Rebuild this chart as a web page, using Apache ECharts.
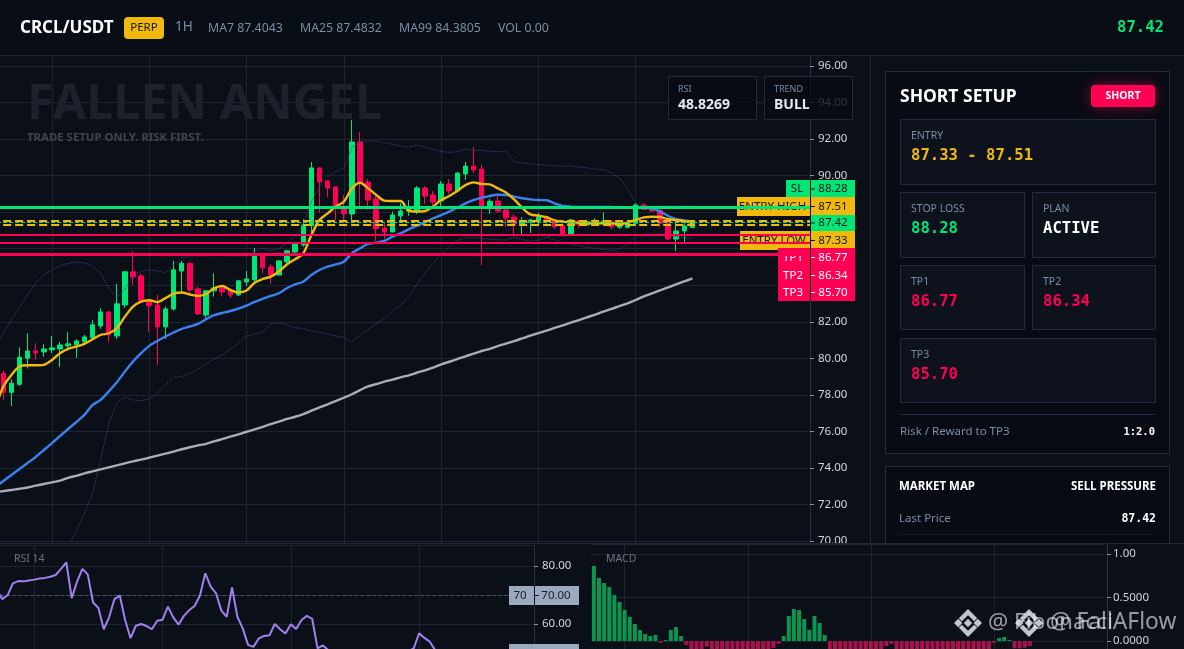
<!DOCTYPE html>
<html><head><meta charset="utf-8">
<script src="https://cdn.jsdelivr.net/npm/echarts@6/dist/echarts.min.js"></script>
<style>html,body{margin:0;padding:0;background:#0b1018;overflow:hidden}#c{width:1184px;height:649px}</style>
</head><body><div id="c"></div>
<script>
// [open, close, low, high]; first entry sits just off the left edge
const candles = [
[78.90,79.20,78.60,79.40],
[79.18,78.14,77.72,79.33],[78.14,78.63,77.39,78.85],[78.58,80.06,78.49,80.60],[80.00,80.40,79.44,81.37],[80.40,80.29,79.91,80.82],
[80.35,80.51,80.09,80.77],[80.46,80.57,80.28,81.22],[80.51,80.73,79.51,80.90],[80.68,80.79,80.55,81.44],[80.73,80.95,80.02,81.04],
[80.90,81.17,80.82,81.28],[81.12,81.83,81.06,82.10],[81.77,82.54,81.61,82.76],[82.54,81.28,80.86,82.54],[81.22,82.98,81.06,84.07],
[82.92,84.73,82.76,84.78],[84.73,84.45,84.02,85.88],[84.51,83.14,83.09,84.65],[83.09,82.87,81.44,83.20],[82.92,81.72,79.64,83.47],
[81.72,82.70,81.06,82.83],[82.70,84.84,82.61,85.33],[84.78,85.20,83.56,85.33],[85.20,83.74,83.56,85.20],[83.80,82.43,82.37,83.91],
[82.37,83.69,82.21,83.74],[83.69,83.85,83.38,84.65],[83.85,83.63,83.38,84.02],[83.69,83.47,83.29,83.83],[83.47,84.24,83.41,84.29],
[84.18,84.34,83.96,84.78],[84.29,85.60,84.20,86.04],[85.60,84.95,84.65,85.66],[85.00,84.56,84.07,85.15],[84.56,85.33,84.54,85.38],
[85.28,85.88,85.06,85.93],[85.82,86.26,85.60,86.30],[86.20,87.30,86.11,87.61],[87.26,90.42,86.66,90.74],[90.42,89.65,87.97,90.44],
[89.70,89.32,88.83,89.76],[89.38,88.21,87.57,89.38],[88.28,87.90,87.39,88.94],[87.90,91.84,87.39,93.04],[91.84,89.61,88.15,92.39],
[89.65,88.66,88.12,89.81],[88.72,87.08,86.42,88.88],[87.13,86.91,86.53,87.42],[86.91,87.84,86.91,88.04],[87.79,88.06,87.48,88.48],
[88.06,88.30,87.79,88.66],[88.01,89.32,87.90,89.43],[89.32,88.88,88.44,89.43],[88.94,88.55,88.30,89.16],[88.61,89.54,88.34,89.70],
[89.54,89.16,88.99,89.81],[89.16,90.14,89.07,90.18],[90.09,90.52,89.76,90.74],[90.52,90.31,90.14,91.56],[90.36,88.28,85.11,90.63],
[88.28,88.59,87.90,88.72],[88.61,88.06,87.95,88.94],[88.12,87.68,87.19,88.21],[87.73,87.35,86.80,87.88],[87.35,87.51,86.75,87.73],
[87.48,87.57,86.86,87.62],[87.51,87.73,87.30,87.95],[87.66,87.51,87.24,87.79],[87.51,87.19,87.08,87.62],[87.26,86.80,86.66,87.39],
[86.80,87.57,86.75,87.62],[87.51,87.33,87.11,87.57],[87.30,87.48,87.26,87.57],[87.39,87.55,87.30,87.66],[87.39,87.51,87.30,87.99],
[87.51,87.20,87.06,87.57],[87.17,87.24,87.08,87.30],[87.17,87.39,87.11,87.51],[87.39,88.39,87.24,88.48],[88.39,88.15,88.15,88.52],
[88.26,88.06,88.03,88.33],[88.12,87.39,87.17,88.15],[87.39,86.53,86.47,87.48],[86.53,86.97,85.87,87.51],[86.97,87.24,86.37,87.48],
[87.17,87.42,87.11,87.44]];
const ma7 = [77.30,78.45,79.09,79.55,79.62,79.62,79.64,79.91,80.28,80.51,80.64,80.79,81.04,81.28,81.37,81.64,82.28,82.83,83.10,83.18,83.07,83.29,83.54,83.60,83.49,83.41,83.52,83.83,83.96,83.74,83.61,83.71,84.14,84.34,84.47,84.75,85.15,85.42,85.74,86.75,87.57,87.93,88.30,88.57,89.30,89.61,89.30,88.94,88.63,88.61,88.61,88.08,88.03,88.06,88.30,88.66,88.88,89.17,89.48,89.63,89.54,89.52,89.30,89.08,88.70,88.24,87.88,87.81,87.72,87.55,87.48,87.44,87.42,87.40,87.39,87.39,87.39,87.37,87.42,87.57,87.71,87.75,87.73,87.61,87.57,87.51,87.40];
const ma25 = [72.95,73.28,73.61,73.94,74.27,74.60,74.98,75.36,75.75,76.13,76.51,76.90,77.44,77.72,78.18,78.69,79.27,79.82,80.28,80.68,80.95,81.19,81.41,81.61,81.74,81.88,82.14,82.36,82.48,82.59,82.72,82.88,83.09,83.25,83.41,83.56,83.85,84.05,84.19,84.56,84.83,85.02,85.14,85.29,85.75,86.02,86.26,86.33,86.42,86.66,86.84,87.06,87.24,87.44,87.66,87.84,88.03,88.24,88.48,88.66,88.79,88.88,88.96,88.94,88.85,88.76,88.70,88.66,88.65,88.48,88.34,88.30,88.28,88.28,88.28,88.28,88.28,88.26,88.26,88.24,88.24,88.19,88.03,87.79,87.62,87.55,87.48];
const ma99 = [72.67,72.73,72.79,72.86,72.93,73.03,73.12,73.21,73.30,73.46,73.56,73.70,73.81,73.92,74.03,74.14,74.25,74.36,74.45,74.56,74.67,74.78,74.89,75.02,75.13,75.23,75.32,75.45,75.58,75.71,75.84,75.98,76.11,76.25,76.40,76.53,76.68,76.80,76.95,77.13,77.31,77.48,77.66,77.84,78.03,78.26,78.46,78.59,78.72,78.83,78.96,79.07,79.21,79.34,79.49,79.67,79.81,79.96,80.11,80.25,80.40,80.52,80.67,80.80,80.94,81.09,81.24,81.38,81.51,81.66,81.80,81.95,82.09,82.24,82.39,82.55,82.70,82.86,83.01,83.19,83.39,83.55,83.72,83.88,84.05,84.21,84.38];
const bbUpper = [80.60,81.37,82.10,82.78,83.47,84.14,84.56,84.84,85.06,85.20,85.26,85.22,85.06,84.64,83.83,83.32,83.78,84.53,84.76,84.84,84.78,84.69,85.11,85.48,85.60,85.60,85.62,85.62,85.64,85.60,85.60,85.64,85.90,86.02,85.91,85.99,86.30,86.70,87.30,88.57,89.39,89.94,90.21,90.40,91.55,91.84,91.91,91.87,91.80,91.71,91.62,91.55,91.67,91.58,91.44,91.31,91.27,91.31,91.44,91.38,91.37,91.33,91.31,91.31,90.76,90.69,90.63,90.60,90.56,90.54,90.53,90.53,90.47,90.42,90.36,90.31,90.16,89.85,89.30,88.48,88.33,88.33,88.33,88.35,88.35,88.33,88.33];
const bbLower = [null,null,null,null,null,null,null,null,68.90,69.70,70.56,71.51,72.61,74.43,76.44,77.57,77.86,77.72,77.68,77.77,78.08,78.54,78.96,79.00,79.18,79.40,79.69,79.95,80.18,80.49,80.82,81.22,81.33,81.44,81.88,81.95,81.83,81.68,81.62,81.50,81.42,81.33,81.22,81.15,80.91,81.27,81.58,81.89,82.18,82.59,82.91,83.37,84.06,84.65,85.20,85.65,86.11,86.47,86.58,86.60,86.55,86.51,86.49,86.47,86.62,86.51,86.40,86.47,86.62,86.47,86.33,86.25,86.16,86.07,86.02,85.96,85.89,85.98,86.25,86.71,86.78,86.80,86.80,86.76,86.66,86.58,86.56];
const rsiValues = [71.7,68.6,69.9,74.0,74.8,74.7,75.0,75.3,75.7,75.9,76.3,76.9,79.0,81.2,68.9,74.6,79.0,77.1,67.4,65.5,58.2,62.3,68.6,69.8,61.4,55.1,59.4,60.0,59.3,58.2,61.1,61.5,66.0,62.3,59.8,62.8,64.8,66.2,69.8,77.5,72.9,70.6,64.6,62.5,72.6,62.5,58.5,52.8,52.1,55.0,55.9,56.1,60.0,58.2,56.7,59.9,58.3,61.4,62.8,61.8,51.6,52.6,51.0,49.8,48.9,47.5,46.2,45.6,46.8,47.9,47.2,46.5,45.9,47.1,48.6,49.4,49.9,50.6,51.6,56.8,55.2,53.9,51.0,49.6,48.7,47.8,48.2,47.4,48.1,48.83];
const macdHist = [0.862,0.724,0.667,0.621,0.529,0.448,0.356,0.276,0.195,0.126,0.08,0.057,0.069,-0.02,0.011,0.126,0.161,0.057,-0.046,-0.11,-0.14,-0.13,-0.065,-0.12,-0.15,-0.16,-0.14,-0.17,-0.18,-0.15,-0.14,-0.13,-0.12,-0.11,-0.10,-0.08,-0.034,0.057,0.287,0.368,0.356,0.253,0.126,0.287,0.207,0.069,-0.13,-0.16,-0.18,-0.20,-0.19,-0.17,-0.16,-0.15,-0.14,-0.12,-0.10,-0.057,-0.034,-0.10,-0.12,-0.13,-0.14,-0.15,-0.16,-0.15,-0.14,-0.13,-0.14,-0.15,-0.13,-0.12,-0.11,-0.13,-0.12,-0.11,-0.10,-0.095,-0.02,0.034,0.046,0.011,-0.084,-0.084,-0.077,-0.057];
const priceTicks = {min:70,max:96.6,step:2};
const levelSL=88.28, levelEntryHigh=87.51, levelLast=87.42, levelEntryLow=87.33, levelTP1=86.77, levelTP2=86.34, levelTP3=85.70;
const rsiLast='48.8269', trendLabel='BULL';

const SANS='"Noto Sans",sans-serif', MONO='"DejaVu Sans Mono",monospace';
const GREEN='#00e676', PINK='#ff0055', GOLD='#f0b90b', GRID='#1d2430', AXIS='#2a3142', MUTED='#7b8ca3';
const mkCats=n=>Array.from({length:n},(_,i)=>String(i));
const chart=echarts.init(document.getElementById('c'),null,{renderer:'canvas'});
const G=[];
const R=(x,y,w,h,fill,stroke,z,extra)=>G.push(Object.assign({type:'rect',silent:true,z:z||1,shape:{x,y,width:w,height:h,r:(extra&&extra.r)||0},style:Object.assign({fill,stroke:stroke||null,lineWidth:stroke?1:0},extra&&extra.style)}));
const T=(x,y,text,font,fill,align,z)=>G.push({type:'text',silent:true,z:z||1,style:{x,y,text,font,fill,align:align||'left',verticalAlign:'middle'}});
const card=(x,y,w,h,label,val,color,mono)=>{R(x+.5,y+.5,w,h,'#0d121c','#242b3c');T(x+11,y+17,label,'10.5px '+SANS,MUTED);T(x+11,y+37,val,'bold 15.6px '+(mono===false?SANS:MONO),color);};

// watermark
T(27,105,'FALLEN ANGEL','bold 48.5px '+SANS,'#1c212b');
T(27,138,'TRADE SETUP ONLY. RISK FIRST.','bold 11.4px '+SANS,'#3f444f');
// floating stat boxes
const stat=(x,label,val)=>{R(x+.5,76.5,88,43,'rgba(8,11,19,0.82)','#242b3c');T(x+10,89,label,'9px '+SANS,MUTED);T(x+10,105,val,'bold 14px '+SANS,'#e4e9f0');};
stat(668,'RSI',rsiLast);stat(764,'TREND',trendLabel);
// header
R(0,0,1184,55,'#090d15');R(0,55,1184,1,'#202736');
T(20,28,'CRCL/USDT','bold 17px '+SANS,'#ffffff');
R(124,17,40,22,GOLD,null,1,{r:4});T(144,28,'PERP','11.5px '+SANS,'#14161c','center');
T(175,27,'1H','13.5px '+SANS,MUTED);
T(208,28,'MA7 87.4043','12.3px '+SANS,MUTED);T(300,28,'MA25 87.4832','12.3px '+SANS,MUTED);
T(399,28,'MA99 84.3805','12.3px '+SANS,MUTED);T(498,28,'VOL 0.00','12.3px '+SANS,MUTED);
T(1164,28,levelLast.toFixed(2),'bold 15.6px '+MONO,GREEN,'right');
// price tags
const tag=(x,y,h,label,val,bg,fg)=>{R(x,y,855-x,h,bg);if(label)T((x+808)/2,y+h/2,label,'11.5px '+SANS,fg,'center');R(811,y+h/2-.5,4,1,fg);T(833,y+h/2,val,'11.5px '+SANS,fg,'center');};
tag(786,180,18,'SL',levelSL.toFixed(2),GREEN,'#12161d');
tag(737,197,19,'ENTRY HIGH',levelEntryHigh.toFixed(2),GOLD,'#12161d');
tag(810,215,16,'',levelLast.toFixed(2),GREEN,'#12161d');
tag(740,231,19,'ENTRY LOW',levelEntryLow.toFixed(2),GOLD,'#12161d');
tag(778,248,19,'TP1',levelTP1.toFixed(2),PINK,'#ffffff');
tag(778,267,17,'TP2',levelTP2.toFixed(2),PINK,'#ffffff');
tag(778,284,17,'TP3',levelTP3.toFixed(2),PINK,'#ffffff');
R(810,180,1,121,'#0a0e15');
// right column
R(870,56,314,488,'#0b1018');R(870,56,1,488,'#202736');
R(885.5,71.5,284,382,'#080b13','#242b3c');
T(900,97,'SHORT SETUP','bold 17.5px '+SANS,'#ffffff');
R(1091,85,64,22,PINK,null,1,{r:4,style:{shadowBlur:14,shadowColor:'rgba(255,0,85,0.45)'}});
T(1123,96,'SHORT','bold 10.5px '+SANS,'#ffffff','center');
card(900,119,255,65,'ENTRY',levelEntryLow.toFixed(2)+' - '+levelEntryHigh.toFixed(2),GOLD);
card(900,192,124,65,'STOP LOSS',levelSL.toFixed(2),GREEN);
card(1032,192,123,65,'PLAN','ACTIVE','#ffffff');
card(900,265,124,64,'TP1',levelTP1.toFixed(2),PINK);
card(1032,265,123,64,'TP2',levelTP2.toFixed(2),PINK);
card(900,338,255,64,'TP3',levelTP3.toFixed(2),PINK);
R(900,414,255,1,'#242b3c');
T(900,432,'Risk / Reward to TP3','11.5px '+SANS,MUTED);
T(1155,432,'1:2.0','bold 10.5px '+MONO,'#ffffff','right');
R(885.5,466.5,284,100,'#080b13','#242b3c');
T(899,487,'MARKET MAP','bold 11.5px '+SANS,'#ffffff');
T(1156,487,'SELL PRESSURE','bold 11.5px '+SANS,'#ffffff','right');
T(899,519,'Last Price','11.5px '+SANS,MUTED);
T(1156,519,levelLast.toFixed(2),'bold 11.5px '+MONO,'#ffffff','right');
G.push({type:'line',silent:true,z:1,shape:{x1:899,y1:534.5,x2:1156,y2:534.5},style:{stroke:'#1d2430',lineWidth:1,lineDash:[2,2]}});
// bottom strip
R(0,544,1184,105,'#0b1018');R(0,543,1184,1,'#202736');
// pane tags and captions
const paneZ=6;
T(14,559,'RSI 14','10.5px '+SANS,'#6b7280','left',paneZ);
T(606,559,'MACD','10.5px '+SANS,'#6b7280','left',paneZ);
R(509,586,70,19,'#9aa9bd',null,paneZ);T(520,595.5,'70','11.5px '+SANS,'#1a1f28','center',paneZ);T(556,595.5,'70.00','11.5px '+SANS,'#1a1f28','center',paneZ);
R(535,595,4,1,'#1a1f28',null,paneZ);R(534,586,1,19,'#0a0e15',null,paneZ);
R(509,644,70,12,'#9aa9bd',null,paneZ);
// exchange watermark
const WM='rgba(235,238,242,0.82)';
const logo=(c,m,s)=>{const P=pts=>G.push({type:'polygon',silent:true,z:8,shape:{points:pts.map(p=>[c+p[0]*s,m+p[1]*s])},style:{fill:WM}});
 P([[0,-.3],[.3,0],[0,.3],[-.3,0]]);P([[-1,0],[-.7,-.3],[-.4,0],[-.7,.3]]);P([[1,0],[.7,-.3],[.4,0],[.7,.3]]);
 P([[0,-1],[.66,-.34],[.44,-.12],[0,-.56],[-.44,-.12],[-.66,-.34]]);P([[0,1],[.66,.34],[.44,.12],[0,.56],[-.44,.12],[-.66,.34]]);};
logo(968,623,14);logo(1029,623,14);
T(988,623,'@ Fibonacci','22.5px '+SANS,'rgba(235,238,242,0.62)','left',8);
T(1050,623,'@ FallAFlow','22.8px '+SANS,'rgba(235,238,242,0.62)','left',8);

const axisLab={color:'#cfd4dc',fontSize:11.5,fontFamily:SANS,padding:[2,0,0,0]};
const vGrid=(offset,step)=>({show:true,alignWithLabel:true,interval:(i)=>i>=offset&&(i-offset)%step===0&&i<=offset+step*Math.floor(78/step),lineStyle:{color:GRID,width:1}});
const line=(name,data,color,width,extra)=>Object.assign({name,type:'line',data,xAxisIndex:0,yAxisIndex:0,z:4,showSymbol:false,symbol:'none',silent:true,connectNulls:false,lineStyle:{color,width}},extra||{});
const lv=(v,color,w,type)=>({yAxis:v,lineStyle:{color,width:w,type:type||'solid'}});

chart.setOption({
 animation:false,backgroundColor:'#0b1018',
 grid:[{outerBoundsMode:'none',left:-8.86,top:55,width:818.86,height:486},{outerBoundsMode:'none',left:-5.8,top:545,width:539.8,height:108},{outerBoundsMode:'none',left:591.3,top:544,width:513,height:140.5}],
 xAxis:[
  {gridIndex:0,type:'category',data:mkCats(101),axisLine:{show:false},axisLabel:{show:false},axisTick:{show:true,alignWithLabel:true,length:3,interval:i=>(i-7)%12===0&&i>=7&&i<=79,lineStyle:{color:AXIS}},splitLine:vGrid(7,12)},
  {gridIndex:1,z:5,type:'category',data:mkCats(101),axisLine:{show:false},axisLabel:{show:false},axisTick:{show:false},splitLine:vGrid(7,24)},
  {gridIndex:2,z:5,type:'category',data:mkCats(100),axisLine:{show:false},axisLabel:{show:false},axisTick:{show:false},splitLine:vGrid(6,24)}],
 yAxis:[
  {gridIndex:0,type:'value',position:'right',min:priceTicks.min,max:priceTicks.max,interval:priceTicks.step,axisLine:{show:true,lineStyle:{color:AXIS}},axisTick:{show:true,length:4,lineStyle:{color:'#8a93a3'}},axisLabel:Object.assign({margin:8,showMaxLabel:false,formatter:v=>v.toFixed(2)},axisLab),splitLine:{show:true,lineStyle:{color:GRID}}},
  {gridIndex:1,z:5,type:'value',position:'right',min:50,max:87.24,interval:10,axisLine:{show:true,lineStyle:{color:AXIS}},axisTick:{show:true,length:4,lineStyle:{color:'#8a93a3'}},axisLabel:Object.assign({margin:8,showMaxLabel:false,formatter:v=>v.toFixed(2)},axisLab),splitLine:{show:true,lineStyle:{color:GRID}}},
  {gridIndex:2,z:5,type:'value',position:'right',offset:2.7,min:-0.5,max:1.115,interval:0.5,axisLine:{show:true,lineStyle:{color:AXIS}},axisTick:{show:true,length:4,lineStyle:{color:'#8a93a3'}},axisLabel:Object.assign({margin:6,showMaxLabel:false,formatter:v=>v===1?'1.00':v.toFixed(4)},axisLab),splitLine:{show:true,lineStyle:{color:GRID}}}],
 graphic:{elements:G},
 series:[
  {name:'candles',type:'candlestick',xAxisIndex:0,yAxisIndex:0,z:3,silent:true,data:candles,barWidth:5,itemStyle:{color:GREEN,color0:PINK,borderColor:GREEN,borderColor0:PINK,borderWidth:1}},
  line('BB upper',bbUpper,'#453f7a',1,{lineStyle:{color:'#453f7a',width:1,type:'dotted'}}),
  line('BB lower',bbLower,'#453f7a',1,{lineStyle:{color:'#453f7a',width:1,type:'dotted'}}),
  line('MA99',ma99,'#a9adb6',2.4,{smooth:0.3}),
  line('MA25',ma25,'#3b82f0',2.4,{smooth:0.3}),
  line('MA7',ma7,GOLD,2.4,{smooth:0.3}),
  {name:'levels',type:'line',xAxisIndex:0,yAxisIndex:0,z:5,data:[],silent:true,markLine:{silent:true,symbol:'none',animation:false,label:{show:false},data:[
    lv(levelLast,GREEN,1,'dashed'),lv(levelEntryHigh,GOLD,2,'dashed'),lv(levelEntryLow,GOLD,2,'dashed'),lv(levelSL,GREEN,3),lv(levelTP1,PINK,2),lv(levelTP2,PINK,2),lv(levelTP3,PINK,3)]}},
  {name:'RSI',type:'line',xAxisIndex:1,yAxisIndex:1,z:6,data:rsiValues,symbol:'none',silent:true,lineStyle:{color:'#9f80ee',width:2},markLine:{silent:true,symbol:'none',animation:false,label:{show:false},data:[{yAxis:70,lineStyle:{color:'#4a5060',width:1,type:'dashed'}}]}},
  {name:'MACD',type:'bar',xAxisIndex:2,yAxisIndex:2,z:6,silent:true,data:macdHist,barWidth:4,itemStyle:{color:p=>p.value>=0?'#0a9651':'#a9114c'}}
 ]
});
</script></body></html>
